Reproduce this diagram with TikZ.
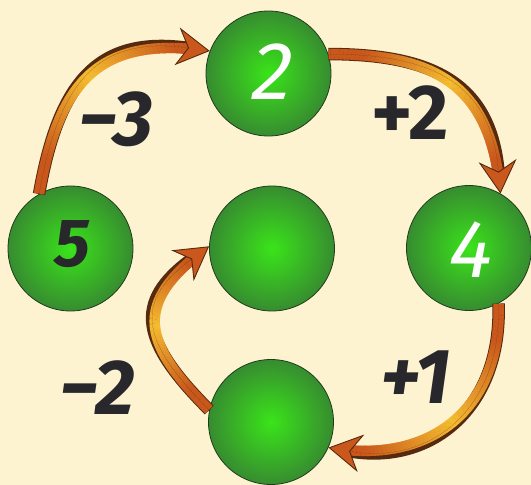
\documentclass[tikz,border=0pt]{standalone}
\usepackage{fontspec}
\setmainfont{Fira Sans}
\newfontfamily\numfont{Fira Sans}[FakeSlant=0.18]
\usetikzlibrary{arrows.meta,decorations.markings}
\definecolor{bg}{RGB}{253,243,209}
\definecolor{ballin}{RGB}{58,228,26}
\definecolor{ballout}{RGB}{55,140,48}
\definecolor{ballrim}{RGB}{30,60,25}
\definecolor{ink}{RGB}{40,40,44}
\definecolor{arrdark}{RGB}{202,88,28}
\definecolor{arrlight}{RGB}{245,188,48}
\definecolor{arrrim}{RGB}{85,42,15}
\newcommand\bandpiece{%
  \pgfmathsetmacro\fr{\pgfkeysvalueof{/pgf/decoration/mark info/distance from start}/\pgfdecoratedpathlength}%
  \pgfmathtruncatemacro\pc{min(100,140*abs(2*\fr-1))}%
  \fill[arrdark!\pc!arrlight] (-0.6pt,-5.2pt) rectangle (0.6pt,5.2pt);}
\newcommand\connector[3]{%
  \draw[arrowrim] (#1) to[#3] (#2);
  \path[arrowband] (#1) to[#3] (#2);
  \draw[arrowtip] (#1) to[#3] (#2);}
\tikzset{
  ball/.style={circle, minimum size=125pt, inner sep=0pt, draw=ballrim, line width=0.8pt, inner color=ballin, outer color=ballout},
  lab/.style={text=ink, font=\fontsize{78}{78}\selectfont\bfseries\itshape, inner sep=0pt},
  numw/.style={text=white, font=\fontsize{82}{82}\numfont, inner sep=0pt},
  numd/.style={text=ink, font=\fontsize{68}{68}\selectfont\bfseries\itshape, inner sep=0pt},
  arrowrim/.style={draw=arrrim, line width=12.5pt, shorten >=21pt},
  arrowband/.style={decoration={markings, mark=between positions 1pt and -21pt step 0.8pt with {\bandpiece}}, decorate},
  arrowtip/.style={draw=arrrim, line width=0.01pt, -{Stealth[length=33pt,width=38pt,inset=11pt,line width=0.9pt,fill=arrdark]}},
}
\begin{document}
\begin{tikzpicture}[x=1pt,y=1pt]
\fill[bg] (0,-485) rectangle (531,0);
\useasboundingbox (0,-485) rectangle (531,0);
\node[ball] (n2) at (268.5,-73.5) {};
\node[ball] (n5) at (70.5,-248.5) {};
\node[ball] (nm) at (272,-248.5) {};
\node[ball] (n4) at (469,-248) {};
\node[ball] (nb) at (271,-422) {};
\node[numw] (t2) at (269,-72) {2};
\node[numd] (t5) at (72,-244) {5};
\node[numw] (t4) at (467,-250) {4};
\node[lab] (l1) at (116,-119) {−3};
\node[lab, font=\fontsize{78}{78}\selectfont\bfseries] (l2) at (410,-113) {+2};
\node[lab] (l3) at (416,-377) {+1};
\node[lab] (l4) at (97,-388) {−2};
\connector{n5.120}{n2.159}{out=80,in=172,looseness=1.3}
\connector{n2.18}{n4.60}{out=0,in=95,looseness=1.25}
\connector{n4.-62}{nb.-24}{out=-88,in=-10,looseness=1.2}
\connector{nb.169}{nm.178}{out=135,in=216,looseness=1.5}
\end{tikzpicture}
\end{document}
